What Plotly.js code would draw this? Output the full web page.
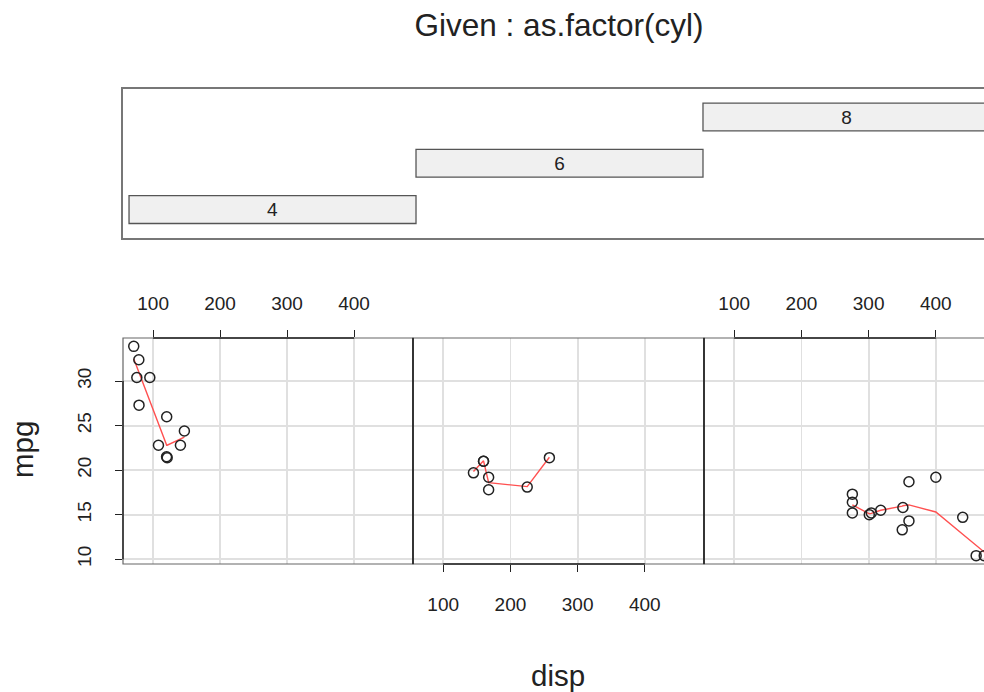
<!DOCTYPE html>
<html><head><meta charset="utf-8">
<script src="https://cdn.plot.ly/plotly-3.0.1.min.js"></script>
<style>html,body{margin:0;padding:0;overflow:hidden;background:#fff}#chart{width:1000px;height:692px}</style>
</head><body><div id="chart"></div>
<script>
// ---- data (mtcars, split by cylinders) ----
const disp4 = [108, 146.7, 140.8, 78.7, 75.7, 71.1, 120.1, 79.0, 120.3, 95.1, 121.0];
const mpg4  = [22.8, 24.4, 22.8, 32.4, 30.4, 33.9, 21.5, 27.3, 26.0, 30.4, 21.4];
const disp6 = [160, 160, 258, 225, 167.6, 167.6, 145];
const mpg6  = [21.0, 21.0, 21.4, 18.1, 19.2, 17.8, 19.7];
const disp8 = [360, 360, 275.8, 275.8, 275.8, 472, 460, 440, 318, 304, 350, 400, 351, 301];
const mpg8  = [18.7, 14.3, 16.4, 17.3, 15.2, 10.4, 10.4, 14.7, 15.5, 15.2, 13.3, 19.2, 15.8, 15.0];
// smooth (red) curves
const smooth4x = [71.1, 75.7, 78.7, 79.0, 95.1, 108, 120.1, 120.3, 121, 140.8, 146.7];
const smooth4y = [32.5, 31.6, 31.0, 30.9, 27.7, 25.1, 22.8, 22.8, 22.8, 23.5, 23.7];
const smooth6x = [145, 160, 167.6, 225, 258];
const smooth6y = [19.85, 21.05, 18.6, 18.15, 21.45];
const smooth8x = [275.8, 301, 304, 318, 350, 351, 360, 400, 440, 460, 472];
const smooth8y = [16.1, 15.1, 15.15, 15.5, 15.95, 16.0, 16.1, 15.3, 12.8, 11.6, 10.8];
// given panel
const givenLevels = ['4', '6', '8'];
const givenLower  = [0.5, 1.5, 2.5];
const givenUpper  = [1.5, 2.5, 3.5];
// ticks
const dispTicks = [100, 200, 300, 400];
const mpgTicks  = [10, 15, 20, 25, 30];

// ---- layout helpers ----
const W = 1000, H = 692;
const px = v => v / W, py = v => 1 - v / H;
const panels = [[123, 413], [413, 704], [704, 995]];
const yDom = [py(564), py(338)];
const xRange = [55.06, 488.04], yRange = [9.46, 34.84];
const FONT = 'Liberation Sans, Arial, Helvetica, sans-serif';
const TXT = '#222';

const dispSets = [disp4, disp6, disp8], mpgSets = [mpg4, mpg6, mpg8];
const smX = [smooth4x, smooth6x, smooth8x], smY = [smooth4y, smooth6y, smooth8y];

const traces = [];
for (let i = 0; i < 3; i++) {
  const xa = i ? 'x' + (i + 1) : 'x', ya = i ? 'y' + (i + 1) : 'y';
  traces.push({type: 'scatter', mode: 'lines', x: smX[i], y: smY[i], xaxis: xa, yaxis: ya,
    line: {color: 'rgb(255,80,80)', width: 1.4}, hoverinfo: 'skip', showlegend: false});
  traces.push({type: 'scatter', mode: 'markers', x: dispSets[i], y: mpgSets[i], xaxis: xa, yaxis: ya,
    marker: {symbol: 'circle-open', size: 10, color: '#222', line: {width: 1.5, color: '#222'}},
    showlegend: false});
}
traces.push({type: 'bar', orientation: 'h', xaxis: 'x4', yaxis: 'y4',
  y: givenLevels.map((_, i) => i + 1),
  x: givenUpper.map((u, i) => u - givenLower[i]),
  base: givenLower, width: 0.6,
  text: givenLevels, textposition: 'inside', insidetextanchor: 'middle', textangle: 0,
  textfont: {family: FONT, size: 19, color: TXT},
  marker: {color: '#f0f0f0', line: {color: '#555', width: 1.3}},
  hoverinfo: 'skip', showlegend: false});

const baseX = (dom, anchor, side, standoff) => ({
  domain: dom, anchor: anchor, range: xRange, side: side,
  tickvals: dispTicks, ticktext: dispTicks.map(String), ticks: 'outside', ticklen: 7,
  tickcolor: '#222', tickwidth: 1, showticklabels: true,
  tickfont: {family: FONT, size: 19, color: TXT}, ticklabelstandoff: standoff,
  showgrid: true, gridcolor: '#e0e0e0', gridwidth: 1.8, zeroline: false, showline: false, fixedrange: true
});
const baseY = (anchor, labels) => ({
  domain: yDom, anchor: anchor, range: yRange,
  tickvals: mpgTicks, ticktext: mpgTicks.map(String), ticks: labels ? 'outside' : '', ticklen: 7,
  tickcolor: '#222', tickwidth: 1, showticklabels: labels, tickangle: -90,
  tickfont: {family: FONT, size: 19, color: TXT}, ticklabelstandoff: 16,
  showgrid: true, gridcolor: '#e0e0e0', gridwidth: 1.8, zeroline: false, showline: false, fixedrange: true
});

const shapes = [];
['', '2', '3'].forEach(s => {
  shapes.push({type: 'rect', xref: 'x' + s + ' domain', yref: 'y' + s + ' domain',
    x0: 0, x1: 1, y0: 0, y1: 1, line: {color: '#666', width: 1.2}, layer: 'above'});
});
// dark dividers between panels
['2', '3'].forEach(s => {
  shapes.push({type: 'line', xref: 'x' + s + ' domain', yref: 'y' + s + ' domain',
    x0: 0, x1: 0, y0: 0, y1: 1, line: {color: '#222', width: 1.6}, layer: 'above'});
});
// axis lines spanning first..last tick
const tx0 = dispTicks[0], tx1 = dispTicks[dispTicks.length - 1];
shapes.push({type: 'line', xref: 'x', yref: 'y domain', x0: tx0, x1: tx1, y0: 1, y1: 1, line: {color: '#222', width: 1.4}, layer: 'above'});
shapes.push({type: 'line', xref: 'x2', yref: 'y2 domain', x0: tx0, x1: tx1, y0: 0, y1: 0, line: {color: '#222', width: 1.4}, layer: 'above'});
shapes.push({type: 'line', xref: 'x3', yref: 'y3 domain', x0: tx0, x1: tx1, y0: 1, y1: 1, line: {color: '#222', width: 1.4}, layer: 'above'});
shapes.push({type: 'line', xref: 'x domain', yref: 'y', x0: 0, x1: 0, y0: mpgTicks[0], y1: mpgTicks[mpgTicks.length - 1], line: {color: '#222', width: 1.4}, layer: 'above'});

const layout = {
  width: W, height: H, margin: {l: 0, r: 0, t: 0, b: 0},
  paper_bgcolor: '#fff', plot_bgcolor: 'rgba(0,0,0,0)',
  font: {family: FONT, color: TXT},
  title: {text: 'Given : as.factor(cyl)', x: 0.559, xref: 'container', xanchor: 'center',
    y: py(25), yref: 'container', yanchor: 'middle', font: {family: FONT, size: 31.5, color: TXT}},
  xaxis:  baseX([px(panels[0][0]), px(panels[0][1])], 'y', 'top', 12),
  xaxis2: baseX([px(panels[1][0]), px(panels[1][1])], 'y2', 'bottom', 16),
  xaxis3: baseX([px(panels[2][0]), px(panels[2][1])], 'y3', 'top', 12),
  yaxis:  baseY('x', true),
  yaxis2: baseY('x2', false),
  yaxis3: baseY('x3', false),
  xaxis4: {domain: [px(123), px(996)], anchor: 'y4', range: [0.479, 3.521], showticklabels: false, ticks: '',
    showgrid: false, zeroline: false, showline: true, mirror: true, linecolor: '#777', linewidth: 1.6, fixedrange: true},
  yaxis4: {domain: [py(238.3), py(89)], anchor: 'x4', range: [0.38, 3.605], showticklabels: false, ticks: '',
    showgrid: false, zeroline: false, showline: true, mirror: true, linecolor: '#777', linewidth: 1.6, fixedrange: true},
  shapes: shapes,
  annotations: [
    {text: 'disp', xref: 'paper', yref: 'paper', x: px(558), y: py(675), showarrow: false,
      xanchor: 'center', yanchor: 'middle', font: {family: FONT, size: 29.5, color: TXT}},
    {text: 'mpg', xref: 'paper', yref: 'paper', x: px(22), y: py(450), showarrow: false, textangle: -90,
      xanchor: 'center', yanchor: 'middle', font: {family: FONT, size: 29.5, color: TXT}}
  ],
  showlegend: false, bargap: 0
};

Plotly.newPlot('chart', traces, layout, {displayModeBar: false, staticPlot: true});
</script></body></html>
